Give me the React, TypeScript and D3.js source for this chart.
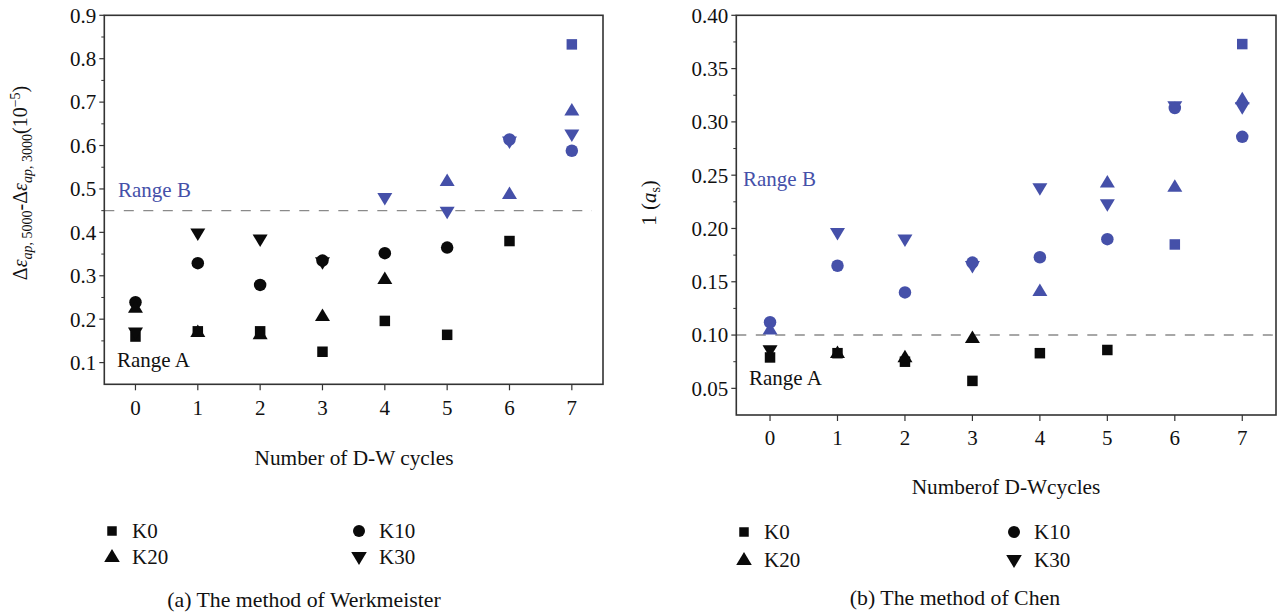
import React from "react";
import * as d3 from "d3";

// ---------- data ----------
const cycles = [0, 1, 2, 3, 4, 5, 6, 7];
const seriesNames = ["K0", "K10", "K20", "K30"];

// (a) Werkmeister method
const wK0 = [0.16, 0.172, 0.172, 0.125, 0.196, 0.164, 0.38, 0.833];
const wK10 = [0.239, 0.329, 0.279, 0.335, 0.352, 0.365, 0.614, 0.588];
const wK20 = [0.226, 0.17, 0.165, 0.207, 0.292, 0.518, 0.488, 0.68];
const wK30 = [0.17, 0.398, 0.384, 0.332, 0.48, 0.448, 0.61, 0.626];
const wYTicks = [0.1, 0.2, 0.3, 0.4, 0.5, 0.6, 0.7, 0.8, 0.9];
const wYMinor = [0.15, 0.25, 0.35, 0.45, 0.55, 0.65, 0.75, 0.85];
const wThreshold = 0.45;

// (b) Chen method
const cK0 = [0.079, 0.083, 0.075, 0.057, 0.083, 0.086, 0.185, 0.373];
const cK10 = [0.112, 0.165, 0.14, 0.168, 0.173, 0.19, 0.313, 0.286];
const cK20 = [0.105, 0.083, 0.079, 0.097, 0.141, 0.243, 0.239, 0.321];
const cK30 = [0.086, 0.196, 0.19, 0.165, 0.238, 0.223, 0.315, 0.314];
const cYTicks = [0.05, 0.1, 0.15, 0.2, 0.25, 0.3, 0.35, 0.4];
const cYMinor = [0.075, 0.125, 0.175, 0.225, 0.275, 0.325, 0.375];
const cThreshold = 0.1;

const BLUE = "#4550A9";
const BLACK = "#0a0a0a";
const FONT = "'Liberation Serif', 'Times New Roman', serif";
const FS = 21;

type Shape = "square" | "circle" | "up" | "down";
const shapes: Shape[] = ["square", "circle", "up", "down"];

function markerPath(shape: Shape, s: number): string {
  if (shape === "square") {
    const h = s / 2;
    return `M${-h},${-h}H${h}V${h}H${-h}Z`;
  }
  if (shape === "circle") {
    return d3.symbol(d3.symbolCircle, Math.PI * (s / 2) * (s / 2))() || "";
  }
  const w = s * 1.2;
  const hgt = s;
  if (shape === "up") {
    return `M0,${-hgt * 0.62}L${w / 2},${hgt * 0.38}L${-w / 2},${hgt * 0.38}Z`;
  }
  return `M0,${hgt * 0.62}L${w / 2},${-hgt * 0.38}L${-w / 2},${-hgt * 0.38}Z`;
}

const markerSize: Record<Shape, number> = { square: 10.5, circle: 12.5, up: 12.5, down: 12.5 };

interface PanelProps {
  left: number;
  right: number;
  top: number;
  bottom: number;
  yDomain: [number, number];
  yTicks: number[];
  yMinor: number[];
  yFmt: (v: number) => string;
  data: number[][];
  threshold: number;
  dashEnd: number;
  rangeB: [number, number];
  rangeA: [number, number];
  xTickBaseline: number;
}

function Panel(p: PanelProps) {
  const x = d3.scaleLinear().domain([-0.5, 7.5]).range([p.left, p.right]);
  const y = d3.scaleLinear().domain(p.yDomain).range([p.bottom, p.top]);
  const axisColor = "#333";
  const order = [0, 1, 2, 3];
  return (
    <g fontFamily={FONT}>
      {/* dashed threshold */}
      <line
        x1={p.left}
        x2={p.dashEnd}
        y1={y(p.threshold)}
        y2={y(p.threshold)}
        stroke="#8a8a8a"
        strokeWidth={1.4}
        strokeDasharray="10 9.5"
      />
      {/* markers */}
      {order.map((si) =>
        p.data[si].map((v, i) => (
          <path
            key={`${si}-${i}`}
            d={markerPath(shapes[si], markerSize[shapes[si]])}
            transform={`translate(${x(cycles[i])},${y(v)})`}
            fill={v > p.threshold - 0.0055 * (p.yDomain[1] - p.yDomain[0]) ? BLUE : BLACK}
          />
        ))
      )}
      {/* frame */}
      <rect
        x={p.left}
        y={p.top}
        width={p.right - p.left}
        height={p.bottom - p.top}
        fill="none"
        stroke={axisColor}
        strokeWidth={1.6}
      />
      {/* y ticks */}
      {p.yTicks.map((t) => (
        <g key={`yt${t}`}>
          <line x1={p.left - 5} x2={p.left} y1={y(t)} y2={y(t)} stroke={axisColor} strokeWidth={1.2} />
          <text x={p.left - 8} y={y(t)} dy="0.35em" textAnchor="end" fontSize={FS} fill="#111">
            {p.yFmt(t)}
          </text>
        </g>
      ))}
      {p.yMinor.map((t) => (
        <line key={`ym${t}`} x1={p.left - 3} x2={p.left} y1={y(t)} y2={y(t)} stroke={axisColor} strokeWidth={1} />
      ))}
      {/* x ticks */}
      {cycles.map((c) => (
        <g key={`xt${c}`}>
          <line x1={x(c)} x2={x(c)} y1={p.bottom} y2={p.bottom + 6} stroke={axisColor} strokeWidth={1.2} />
          <text x={x(c)} y={p.xTickBaseline} textAnchor="middle" fontSize={FS} fill="#111">
            {c}
          </text>
        </g>
      ))}
      <text x={p.rangeB[0]} y={p.rangeB[1]} fontSize={FS} fill={BLUE}>
        Range B
      </text>
      <text x={p.rangeA[0]} y={p.rangeA[1]} fontSize={FS} fill="#111">
        Range A
      </text>
    </g>
  );
}

function Legend({ x0, x1, y0, y1 }: { x0: number; x1: number; y0: number; y1: number }) {
  const pos = [
    [x0, y0],
    [x1, y0],
    [x0, y1],
    [x1, y1],
  ];
  const sizes: Record<Shape, number> = { square: 9.5, circle: 12, up: 13, down: 13 };
  return (
    <g fontFamily={FONT}>
      {seriesNames.map((n, i) => (
        <g key={n}>
          <path d={markerPath(shapes[i], sizes[shapes[i]])} transform={`translate(${pos[i][0]},${pos[i][1]})`} fill={BLACK} />
          <text x={pos[i][0] + 20} y={pos[i][1]} dy="0.35em" fontSize={FS} fill="#111">
            {n}
          </text>
        </g>
      ))}
    </g>
  );
}

export default function App() {
  return (
    <svg
      width={1279}
      height={613}
      style={{ position: "absolute", left: 0, top: 0, background: "#fff" }}
    >
      <Panel
        left={104.3}
        right={603}
        top={15.3}
        bottom={384.3}
        yDomain={[0.05, 0.9]}
        yTicks={wYTicks}
        yMinor={wYMinor}
        yFmt={(v) => d3.format(".1f")(v)}
        data={[wK0, wK10, wK20, wK30]}
        threshold={wThreshold}
        dashEnd={592}
        rangeB={[118, 197]}
        rangeA={[117, 367]}
        xTickBaseline={415}
      />
      <Panel
        left={736.3}
        right={1276}
        top={15.3}
        bottom={415}
        yDomain={[0.025, 0.4]}
        yTicks={cYTicks}
        yMinor={cYMinor}
        yFmt={(v) => d3.format(".2f")(v)}
        data={[cK0, cK10, cK20, cK30]}
        threshold={cThreshold}
        dashEnd={1276}
        rangeB={[743, 186]}
        rangeA={[749, 385]}
        xTickBaseline={445}
      />
      {/* left y label */}
      <text
        transform="translate(27,183) rotate(-90)"
        textAnchor="middle"
        fontFamily={FONT}
        fontSize={20}
        fill="#111"
      >
        <tspan>Δ</tspan>
        <tspan fontStyle="italic">ε</tspan>
        <tspan fontSize={14} dy={5} fontStyle="italic">ap</tspan>
        <tspan fontSize={14}>, 5000</tspan>
        <tspan dy={-5}>-Δ</tspan>
        <tspan fontStyle="italic">ε</tspan>
        <tspan fontSize={14} dy={5} fontStyle="italic">ap</tspan>
        <tspan fontSize={14}>, 3000</tspan>
        <tspan dy={-5}>(10</tspan>
        <tspan fontSize={14} dy={-7}>−5</tspan>
        <tspan dy={7}>)</tspan>
      </text>
      {/* right y label */}
      <text
        transform="translate(656,203) rotate(-90)"
        textAnchor="middle"
        fontFamily={FONT}
        fontSize={FS}
        fill="#111"
      >
        <tspan>1 (</tspan>
        <tspan fontStyle="italic">a</tspan>
        <tspan fontSize={14} dy={4}>s</tspan>
        <tspan dy={-4}>)</tspan>
      </text>
      {/* x labels */}
      <text x={354} y={465} textAnchor="middle" fontFamily={FONT} fontSize={21.3} fill="#111">
        Number of D-W cycles
      </text>
      <text x={1006} y={494} textAnchor="middle" fontFamily={FONT} fontSize={21.3} fill="#111">
        Numberof D-Wcycles
      </text>
      <Legend x0={112} x1={359} y0={531} y1={557} />
      <Legend x0={744} x1={1014} y0={532} y1={560} />
      <text x={304} y={607} textAnchor="middle" fontFamily={FONT} fontSize={21.8} fill="#111">
        (a) The method of Werkmeister
      </text>
      <text x={955} y={605} textAnchor="middle" fontFamily={FONT} fontSize={21.8} fill="#111">
        (b) The method of Chen
      </text>
    </svg>
  );
}
